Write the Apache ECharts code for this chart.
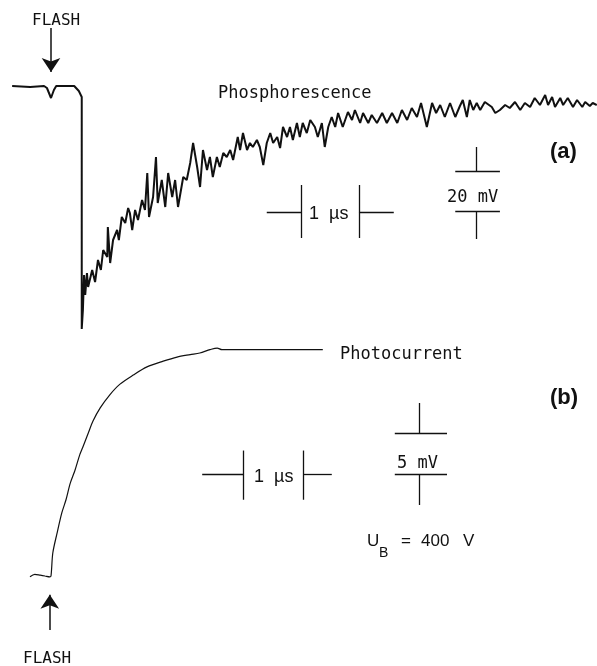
<!DOCTYPE html>
<html>
<head>
<meta charset="utf-8">
<title>Phosphorescence and photocurrent after a flash</title>
<script src="https://cdn.jsdelivr.net/npm/echarts@6/dist/echarts.min.js"></script>
<style>
  html, body { margin: 0; padding: 0; background: #fff; }
  #chart { width: 597px; height: 666px; }
</style>
</head>
<body>
<div id="chart"></div>
<script>
// (a) time in µs after the flash, signal in mV (0 = dark level)
var flashTimeA = [-0.67, -0.36, -0.12, -0.07, 0, 0.05, 0.09, 0.40, 0.48, 0.53];
var flashMvA = [0, -0.5, 0, -1, -6, -2, 0, 0, -2.5, -5.5];

var phosTime = [
    0.53, 0.55, 0.57, 0.59, 0.62, 0.64, 0.71, 0.76, 0.81, 0.86,
    0.90, 0.97, 0.98, 1.02, 1.07, 1.14, 1.17, 1.22, 1.28, 1.33,
    1.36, 1.40, 1.45, 1.50, 1.57, 1.62, 1.66, 1.69, 1.76, 1.81,
    1.84, 1.91, 1.97, 2.02, 2.09, 2.14, 2.19, 2.28, 2.34, 2.40,
    2.45, 2.52, 2.57, 2.62, 2.69, 2.74, 2.79, 2.86, 2.91, 2.97,
    3.03, 3.09, 3.14, 3.22, 3.26, 3.31, 3.38, 3.43, 3.48, 3.55,
    3.60, 3.66, 3.72, 3.78, 3.83, 3.90, 3.95, 4.00, 4.07, 4.12,
    4.17, 4.24, 4.29, 4.34, 4.41, 4.47, 4.55, 4.60, 4.67, 4.72,
    4.78, 4.84, 4.90, 4.95, 5.03, 5.12, 5.19, 5.24, 5.33, 5.38,
    5.47, 5.53, 5.62, 5.71, 5.79, 5.88, 5.97, 6.05, 6.14, 6.22,
    6.31, 6.38, 6.43, 6.48, 6.57, 6.64, 6.71, 6.79, 6.88, 6.97,
    7.05, 7.10, 7.17, 7.22, 7.28, 7.34, 7.40, 7.48, 7.60, 7.66,
    7.74, 7.83, 7.91, 8.00, 8.09, 8.17, 8.26, 8.34, 8.43, 8.52,
    8.57, 8.64, 8.69, 8.78, 8.83, 8.91, 9.00, 9.07, 9.16, 9.21,
    9.29, 9.34, 9.41
];
var phosMv = [
    -121.5, -112, -94.5, -104.5, -93.5, -100.5, -92, -98, -87, -92,
    -82, -85.5, -70.5, -88.5, -77, -72, -77, -65.5, -68.5, -61,
    -63.5, -72, -62, -67, -57, -62, -43.5, -65.5, -55.5, -35.5,
    -58.5, -47, -60.5, -43.5, -55.5, -47, -60.5, -45.5, -47, -38.5,
    -28.5, -40.5, -50.5, -32, -42, -35.5, -45.5, -35.5, -40.5, -33.5,
    -35.5, -32, -37, -25.5, -32, -23.5, -32, -28.5, -30.5, -27,
    -30.5, -39.5, -28.5, -23.5, -28.5, -25.5, -31, -20.5, -25.5, -20.5,
    -27, -18.5, -25.5, -18.5, -23.5, -17, -20.5, -25.5, -18.5, -30.5,
    -20.5, -15.5, -20.5, -13.5, -20.5, -13, -17, -12, -18.5, -13.5,
    -18.5, -14.5, -18.5, -13.5, -18.5, -13.5, -18.5, -12, -17, -11,
    -15.5, -8.5, -14.5, -20.5, -8.5, -13.5, -9.5, -15.5, -8.5, -15.5,
    -10, -7, -15.5, -7, -12, -8.5, -12, -8, -10.5, -13.5,
    -12, -9.5, -11, -8, -12, -8.5, -10.5, -6, -9.5, -4.5,
    -9.5, -5.5, -10.5, -6, -9.5, -6, -10.5, -7, -10.5, -8,
    -10, -8.5, -9.5
];

// (b) photocurrent, time in µs, signal in mV
var photoTime = [
    -0.35, -0.27, -0.18, -0.10, -0.02, 0, 0.03, 0.10, 0.18, 0.25,
    0.32, 0.40, 0.48, 0.53, 0.62, 0.70, 0.82, 0.98, 1.15, 1.37,
    1.60, 1.87, 2.10, 2.32, 2.48, 2.65, 2.77, 2.85, 3.15, 3.65, 4.53
];
var photoMv = [
    -0.1, 0.2, 0.1, 0, -0.1, 0, 2.8, 5.2, 7.7, 9.3,
    11.3, 12.9, 14.8, 15.7, 17.4, 18.9, 20.5, 22.1, 23.4, 24.5,
    25.5, 26.2, 26.7, 27.0, 27.2, 27.6, 27.8, 27.6, 27.6, 27.6, 27.6
];

// scale bars: arm start, tick, tick, arm end (µs) / tick top, arm, tick bottom (mV)
var usBarA_t = [3.72, 4.31, 5.31, 5.91];
var usBarA_v = [-49.5, -63, -76];
var mvBarA_t = [6.97, 7.34, 7.74];
var mvBarA_v = [-30.5, -42.5, -62.5, -76.5];   // 20 mV between the arms
var usBarB_t = [2.52, 3.20, 4.20, 4.68];
var usBarB_v = [15.3, 12.4, 9.3];
var mvBarB_t = [5.73, 6.13, 6.60];
var mvBarB_v = [21.1, 17.44, 12.44, 8.66];     // 5 mV between the arms

// flash arrows: time, tail, head
var flashArrowA = [0, 29, 7];
var flashArrowB = [-0.02, -6.6, -2.3];

var INK = '#111';

function zip(ts, vs) {
    return ts.map(function (t, i) { return [t, vs[i]]; });
}

function seg(t1, v1, t2, v2) {
    return { coords: [[t1, v1], [t2, v2]] };
}

function timeBar(t, v) {
    return [
        seg(t[0], v[1], t[1], v[1]),
        seg(t[1], v[0], t[1], v[2]),
        seg(t[2], v[0], t[2], v[2]),
        seg(t[2], v[1], t[3], v[1])
    ];
}

function voltBar(t, v) {
    return [
        seg(t[1], v[0], t[1], v[1]),
        seg(t[0], v[1], t[2], v[1]),
        seg(t[0], v[2], t[2], v[2]),
        seg(t[1], v[2], t[1], v[3])
    ];
}

function txt(text, x, y, font) {
    return {
        type: 'text',
        x: x,
        y: y,
        silent: true,
        style: {
            text: text,
            font: font,
            fill: INK,
            align: 'left',
            verticalAlign: 'middle'
        }
    };
}

var chart = echarts.init(document.getElementById('chart'));

var MONO = '17px "DejaVu Sans Mono"';
var SANS = '17px "Liberation Sans"';

var option = {
    animation: false,
    backgroundColor: '#fff',
    grid: [
        { left: 0, right: 0, top: 0, bottom: 0 },
        { left: 0, right: 0, top: 0, bottom: 0 }
    ],
    xAxis: [
        { type: 'value', gridIndex: 0, min: -0.8793, max: 9.4138, show: false },
        { type: 'value', gridIndex: 1, min: -0.85, max: 9.1, show: false }
    ],
    yAxis: [
        { type: 'value', gridIndex: 0, min: -290, max: 43, show: false },
        { type: 'value', gridIndex: 1, min: -10.976, max: 70.244, show: false }
    ],
    series: [
        {
            name: 'Phosphorescence',
            type: 'line',
            xAxisIndex: 0,
            yAxisIndex: 0,
            data: zip(flashTimeA, flashMvA).concat(zip(phosTime, phosMv)),
            showSymbol: false,
            clip: false,
            silent: true,
            lineStyle: { color: INK, width: 2 }
        },
        {
            name: 'Photocurrent',
            type: 'line',
            xAxisIndex: 1,
            yAxisIndex: 1,
            data: zip(photoTime, photoMv),
            smooth: 0.3,
            showSymbol: false,
            clip: false,
            silent: true,
            lineStyle: { color: INK, width: 1.2 }
        },
        {
            type: 'lines',
            coordinateSystem: 'cartesian2d',
            xAxisIndex: 0,
            yAxisIndex: 0,
            silent: true,
            lineStyle: { color: INK, width: 1.3, opacity: 1 },
            data: timeBar(usBarA_t, usBarA_v).concat(voltBar(mvBarA_t, mvBarA_v))
        },
        {
            type: 'lines',
            coordinateSystem: 'cartesian2d',
            xAxisIndex: 1,
            yAxisIndex: 1,
            silent: true,
            lineStyle: { color: INK, width: 1.3, opacity: 1 },
            data: timeBar(usBarB_t, usBarB_v).concat(voltBar(mvBarB_t, mvBarB_v))
        },
        {
            type: 'lines',
            coordinateSystem: 'cartesian2d',
            xAxisIndex: 0,
            yAxisIndex: 0,
            silent: true,
            symbol: ['none', 'arrow'],
            symbolSize: [7, 14],
            lineStyle: { color: INK, width: 1.5, opacity: 1 },
            data: [seg(flashArrowA[0], flashArrowA[1], flashArrowA[0], flashArrowA[2])]
        },
        {
            type: 'lines',
            coordinateSystem: 'cartesian2d',
            xAxisIndex: 1,
            yAxisIndex: 1,
            silent: true,
            symbol: ['none', 'arrow'],
            symbolSize: [7, 14],
            lineStyle: { color: INK, width: 1.5, opacity: 1 },
            data: [seg(flashArrowB[0], flashArrowB[1], flashArrowB[0], flashArrowB[2])]
        }
    ],
    graphic: [
        txt('FLASH', 32, 21, '16px "DejaVu Sans Mono"'),
        txt('FLASH', 23, 659, '16px "DejaVu Sans Mono"'),
        txt('Phosphorescence', 218, 94, MONO),
        txt('Photocurrent', 340, 355, MONO),
        txt('(a)', 550, 152, 'bold 22px "Liberation Sans"'),
        txt('(b)', 550, 398, 'bold 22px "Liberation Sans"'),
        txt('1  µs', 309, 214, '18px "Liberation Sans"'),
        txt('1  µs', 254, 477, '18px "Liberation Sans"'),
        txt('20 mV', 447, 198, MONO),
        txt('5 mV', 397, 464, MONO),
        txt('U', 367, 541, SANS),
        txt('B', 379, 553, '14px "Liberation Sans"'),
        txt('=', 401, 541, SANS),
        txt('400', 421, 541, SANS),
        txt('V', 463, 541, SANS)
    ]
};

chart.setOption(option);
</script>
</body>
</html>
